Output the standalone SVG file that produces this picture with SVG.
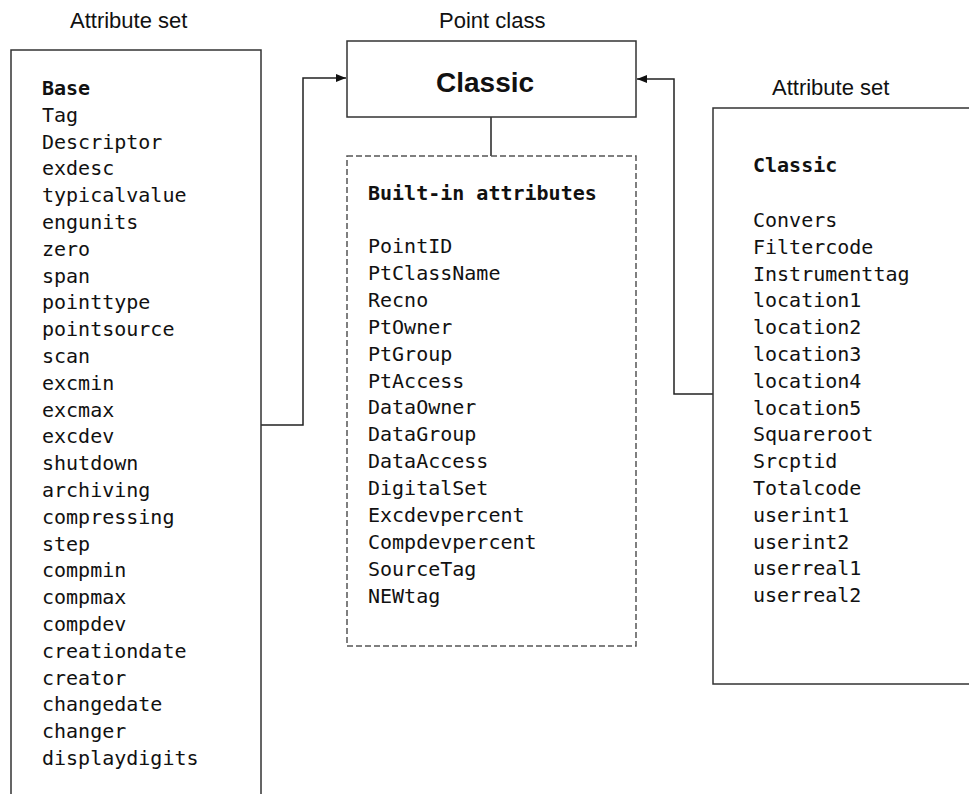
<svg xmlns="http://www.w3.org/2000/svg" width="969" height="794" viewBox="0 0 969 794">
<defs>
<style>
.title{font-family:"Liberation Sans",Arial,sans-serif;font-size:22px;fill:#111}
.mono{font-family:"DejaVu Sans Mono","Liberation Mono",monospace;font-size:20px;fill:#111}
.b{font-weight:bold}
.box{fill:#fff;stroke:#333;stroke-width:1.5}
.dash{fill:#fff;stroke:#555;stroke-width:1.5;stroke-dasharray:6 3}
.conn{fill:none;stroke:#222;stroke-width:1.5}
</style>
<marker id="arr" markerWidth="10" markerHeight="8" refX="10" refY="4" orient="auto" markerUnits="userSpaceOnUse">
<path d="M0,0 L10,4 L0,8 Z" fill="#111"/>
</marker>
</defs>
<rect width="969" height="794" fill="#fff"/>

<text class="title" x="70" y="28">Attribute set</text>
<text class="title" x="439" y="28">Point class</text>
<text class="title" x="772" y="95">Attribute set</text>

<g id="connectors">
<polyline class="conn" points="261,425 303,425 303,78 346,78" marker-end="url(#arr)"/>
<polyline class="conn" points="713,394 674,394 674,79 637,79" marker-end="url(#arr)"/>
<line class="conn" x1="491" y1="117" x2="491" y2="156"/>
</g>

<g id="base-set">
<rect class="box" x="11" y="50" width="250" height="760"/>
<text class="mono" x="42" y="95">
<tspan class="b" x="42" dy="0">Base</tspan>
<tspan x="42" dy="26.8">Tag</tspan>
<tspan x="42" dy="26.8">Descriptor</tspan>
<tspan x="42" dy="26.8">exdesc</tspan>
<tspan x="42" dy="26.8">typicalvalue</tspan>
<tspan x="42" dy="26.8">engunits</tspan>
<tspan x="42" dy="26.8">zero</tspan>
<tspan x="42" dy="26.8">span</tspan>
<tspan x="42" dy="26.8">pointtype</tspan>
<tspan x="42" dy="26.8">pointsource</tspan>
<tspan x="42" dy="26.8">scan</tspan>
<tspan x="42" dy="26.8">excmin</tspan>
<tspan x="42" dy="26.8">excmax</tspan>
<tspan x="42" dy="26.8">excdev</tspan>
<tspan x="42" dy="26.8">shutdown</tspan>
<tspan x="42" dy="26.8">archiving</tspan>
<tspan x="42" dy="26.8">compressing</tspan>
<tspan x="42" dy="26.8">step</tspan>
<tspan x="42" dy="26.8">compmin</tspan>
<tspan x="42" dy="26.8">compmax</tspan>
<tspan x="42" dy="26.8">compdev</tspan>
<tspan x="42" dy="26.8">creationdate</tspan>
<tspan x="42" dy="26.8">creator</tspan>
<tspan x="42" dy="26.8">changedate</tspan>
<tspan x="42" dy="26.8">changer</tspan>
<tspan x="42" dy="26.8">displaydigits</tspan>
</text>
</g>

<g id="point-class">
<rect class="box" x="347" y="41" width="289" height="76"/>
<text x="436" y="92" style="font-family:'Liberation Sans',Arial,sans-serif;font-size:28px;font-weight:bold;fill:#111">Classic</text>
</g>

<g id="builtin">
<rect class="dash" x="347" y="156" width="289" height="490"/>
<text class="mono b" x="368" y="200">Built-in attributes</text>
<text class="mono" x="368" y="253">
<tspan x="368" dy="0">PointID</tspan>
<tspan x="368" dy="26.9">PtClassName</tspan>
<tspan x="368" dy="26.9">Recno</tspan>
<tspan x="368" dy="26.9">PtOwner</tspan>
<tspan x="368" dy="26.9">PtGroup</tspan>
<tspan x="368" dy="26.9">PtAccess</tspan>
<tspan x="368" dy="26.9">DataOwner</tspan>
<tspan x="368" dy="26.9">DataGroup</tspan>
<tspan x="368" dy="26.9">DataAccess</tspan>
<tspan x="368" dy="26.9">DigitalSet</tspan>
<tspan x="368" dy="26.9">Excdevpercent</tspan>
<tspan x="368" dy="26.9">Compdevpercent</tspan>
<tspan x="368" dy="26.9">SourceTag</tspan>
<tspan x="368" dy="26.9">NEWtag</tspan>
</text>
</g>

<g id="classic-set">
<rect class="box" x="713" y="108" width="280" height="576"/>
<text class="mono b" x="753" y="172">Classic</text>
<text class="mono" x="753" y="227">
<tspan x="753" dy="0">Convers</tspan>
<tspan x="753" dy="26.8">Filtercode</tspan>
<tspan x="753" dy="26.8">Instrumenttag</tspan>
<tspan x="753" dy="26.8">location1</tspan>
<tspan x="753" dy="26.8">location2</tspan>
<tspan x="753" dy="26.8">location3</tspan>
<tspan x="753" dy="26.8">location4</tspan>
<tspan x="753" dy="26.8">location5</tspan>
<tspan x="753" dy="26.8">Squareroot</tspan>
<tspan x="753" dy="26.8">Srcptid</tspan>
<tspan x="753" dy="26.8">Totalcode</tspan>
<tspan x="753" dy="26.8">userint1</tspan>
<tspan x="753" dy="26.8">userint2</tspan>
<tspan x="753" dy="26.8">userreal1</tspan>
<tspan x="753" dy="26.8">userreal2</tspan>
</text>
</g>
</svg>
